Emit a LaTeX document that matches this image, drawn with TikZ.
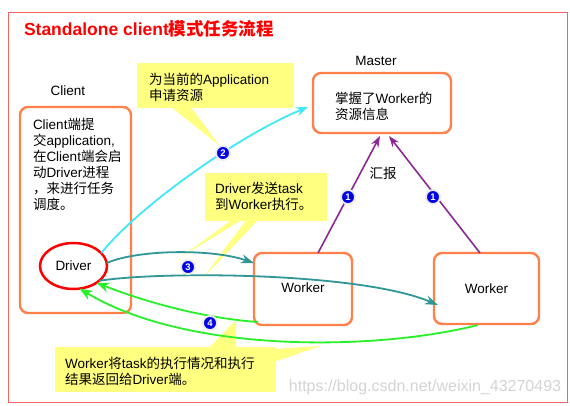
\documentclass[tikz,border=0pt]{standalone}
\usepackage{fontspec}
\setmainfont{Liberation Sans}
\newfontfamily\cjk{Noto Sans CJK SC}
\usetikzlibrary{calc,arrows.meta,shapes.geometric}
\newcommand\zh[1]{{\cjk #1}}
\definecolor{framered}{RGB}{238,102,102}
\definecolor{boxorange}{RGB}{255,128,72}
\definecolor{calloutyellow}{RGB}{255,255,128}
\definecolor{cyanline}{RGB}{64,232,250}
\definecolor{tealline}{RGB}{48,150,150}
\definecolor{greenline}{RGB}{40,240,40}
\definecolor{purpleline}{RGB}{140,40,150}
\definecolor{badgeblue}{RGB}{0,0,230}
\begin{document}
\begin{tikzpicture}[x=1pt,y=-1pt,
  every node/.style={inner sep=0pt,outer sep=0pt},
  txt/.style={font=\fontsize{13.5}{16}\selectfont},
  block/.style={txt,draw=boxorange,line width=2.4pt,rounded corners=8pt,fill=white},
  callout/.style={fill=calloutyellow},
  badge/.style={circle,fill=badgeblue,draw=black!8,line width=1.8pt,minimum size=14pt,text=white,font=\bfseries\fontsize{9.5}{10}\selectfont},
  multi/.style={txt,align=left,anchor=north west},
  cyanarrow/.style={draw=cyanline,line width=1.8pt,-{Stealth[length=12pt,width=9pt]}},
  tealarrow/.style={draw=tealline,line width=1.8pt,-{Stealth[length=13pt,width=9pt]}},
  greenarrow/.style={draw=greenline,line width=1.8pt,-{Stealth[length=13pt,width=10pt]}},
  purplearrow/.style={draw=purpleline,line width=1.6pt,-{Stealth[length=11pt,width=8pt]}}
]
\useasboundingbox (0,0) rectangle (570,405);
\fill[white] (0,0) rectangle (570,405);
\draw[framered,line width=1pt] (8,12) rectangle (567,402);

% watermark
\node[text=black!17,font=\fontsize{16}{18}\selectfont] (wm) at (425,387) {https://blog.csdn.net/weixin\_43270493};

% title
\node[anchor=west,text=red,font=\bfseries\fontsize{17.5}{20}\selectfont] (title) at (24,28.5) {Standalone client\zh{模式任务流程}};

% callouts
\node[callout,minimum width=157pt,minimum height=45pt] (c1) at (215.5,85.5) {};
\fill[calloutyellow] ($(c1.south west)+(33,-2)$) -- ($(c1.south west)+(53,-2)$) -- (220,146) -- cycle;
\node[callout,minimum width=122pt,minimum height=48pt] (c2) at (266,197) {};
\fill[calloutyellow] ($(c2.south west)+(28,-2)$) -- ($(c2.south west)+(38,-2)$) -- (181,257) -- cycle;
\fill[calloutyellow] ($(c2.south west)+(42,-2)$) -- ($(c2.south west)+(54,-2)$) -- (203,278) -- cycle;
\node[callout,minimum width=221pt,minimum height=45pt] (c3) at (165.5,369.5) {};
\fill[calloutyellow] ($(c3.north west)+(153,2)$) -- (234,322) -- (236,322) -- ($(c3.north west)+(181,2)$) -- cycle;
\fill[calloutyellow] ($(c3.north east)+(-2,2)$) -- ($(c3.north east)+(-2,15)$) -- (320,346) -- cycle;

% labels
\node[txt] (clientlabel) at (68,91) {Client};
\node[txt] (masterlabel) at (376,61) {Master};
\node[txt] (report) at (383,173) {\zh{汇报}};

% boxes
\node[block,minimum width=111pt,minimum height=206pt] (client) at (75.5,210) {};
\node[block,minimum width=138pt,minimum height=60pt] (master) at (382,103) {};
\node[block,minimum width=98pt,minimum height=72pt] (w1) at (303,289) {\raisebox{3pt}{Worker}};
\node[block,minimum width=105pt,minimum height=71pt] (w2) at (486.5,288.5) {\raisebox{-2pt}{Worker}};
\node[ellipse,draw=red,line width=2.5pt,minimum width=67pt,minimum height=46pt,txt,fill=white] (driver) at (73.5,266) {Driver};

% texts
\node[multi] (clienttext) at (33,116) {\rule{0pt}{13pt}Client\zh{端提}\\\zh{交}application,\\\zh{在}Client\zh{端会启}\\\zh{动}Driver\zh{进程}\\\zh{，来进行任务}\\\zh{调度。}};
\node[multi] (mastertext) at (335,90) {\rule{0pt}{13pt}\zh{掌握了}Worker\zh{的}\\\zh{资源信息}};
\node[multi] (c1text) at (149,71) {\rule{0pt}{13pt}\zh{为当前的}Application\\\zh{申请资源}};
\node[multi] (c2text) at (215,180) {\rule{0pt}{13pt}Driver\zh{发送}task\\\zh{到}Worker\zh{执行。}};
\node[multi] (c3text) at (65,355) {\rule{0pt}{13pt}Worker\zh{将}task\zh{的执行情况和执行}\\\zh{结果返回给}Driver\zh{端。}};

% connectors
\draw[purplearrow] ($(w1.north west)+(64,0)$) -- ($(master.south west)+(67,3)$);
\draw[purplearrow] ($(w2.north west)+(46,0)$) -- ($(master.south west)+(76,3)$);
\draw[cyanarrow] (driver.25) .. controls (140,205) and (240,135) .. ($(master.west)+(-5,4)$);
\draw[tealarrow] (driver.5) .. controls (135,250) and (210,248) .. ($(w1.north west)+(0,10)$);
\draw[tealarrow] (driver.-30) .. controls (160,271) and (360,272) .. ($(w2.north west)+(4,52)$);
\draw[greenarrow] ($(w1.south west)+(4,-3)$) .. controls (200,318) and (140,300) .. (driver.-36);
\draw[greenarrow] ($(w2.south west)+(44,1)$) .. controls (380,350) and (190,355) .. (driver.-75);

% badges
\node[badge] (b2) at (223,153) {2};
\node[badge] (b1a) at (348,197) {1};
\node[badge] (b1b) at (433,197) {1};
\node[badge] (b3) at (188,267) {3};
\node[badge] (b4) at (210,323) {4};
\end{tikzpicture}
\end{document}
